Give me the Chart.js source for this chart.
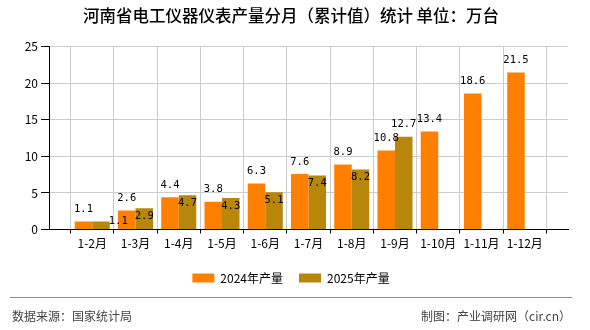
<!DOCTYPE html>
<html>
<head>
<meta charset="utf-8">
<title>河南省电工仪器仪表产量分月（累计值）统计</title>
<script src="https://cdn.jsdelivr.net/npm/chart.js@4.4.1/dist/chart.umd.min.js"></script>
<style>
    html, body { margin: 0; padding: 0; background: #fff; }
    #wrap { width: 590px; height: 330px; position: relative; }
</style>
</head>
<body>
<div id="wrap"><canvas id="myChart" width="590" height="330"></canvas></div>
<script>
// 累计产量（万台）
const months = ['1-2月', '1-3月', '1-4月', '1-5月', '1-6月', '1-7月', '1-8月', '1-9月', '1-10月', '1-11月', '1-12月'];
const output2024 = [1.1, 2.6, 4.4, 3.8, 6.3, 7.6, 8.9, 10.8, 13.4, 18.6, 21.5];
const output2025 = [1.1, 2.9, 4.7, 4.3, 5.1, 7.4, 8.2, 12.7];
const yMin = 0;
const yMax = 25;
const yStep = 5;

const cjkFont = '"Noto Sans CJK SC", "Noto Sans", sans-serif';

// blank slots at both ends so the months sit on the grid lines
const labels = [''].concat(months, ['']);
function padSeries(values) {
    const out = [null].concat(values);
    while (out.length < labels.length) out.push(null);
    return out;
}

// numbers on the bars
const barLabels = {
    id: 'barLabels',
    afterDatasetsDraw(chart) {
        const ctx = chart.ctx;
        const d24 = chart.data.datasets[0].data;
        const d25 = chart.data.datasets[1].data;
        ctx.save();
        ctx.font = '10.5px "DejaVu Sans Mono", monospace';
        ctx.fillStyle = '#000';
        ctx.textBaseline = 'middle';

        chart.getDatasetMeta(0).data.forEach((bar, i) => {
            if (d24[i] == null) return;
            ctx.textAlign = 'center';
            ctx.fillText(d24[i].toFixed(1), bar.x, bar.y - 12);
        });

        chart.getDatasetMeta(1).data.forEach((bar, i) => {
            if (d25[i] == null) return;
            const text = d25[i].toFixed(1);
            if (bar.base - bar.y < 16) {
                ctx.textAlign = 'left';
                ctx.fillText(text, bar.x + bar.width / 2 - 1, bar.y);
            } else if (d24[i] != null && d25[i] - d24[i] > 1) {
                ctx.textAlign = 'center';
                ctx.fillText(text, bar.x, bar.y - 12);
            } else {
                ctx.textAlign = 'center';
                ctx.fillText(text, bar.x, bar.y + 8);
            }
        });
        ctx.restore();
    }
};

// source line under the legend
const footer = {
    id: 'footer',
    afterDraw(chart) {
        const ctx = chart.ctx;
        ctx.save();
        ctx.strokeStyle = '#888';
        ctx.lineWidth = 1;
        ctx.beginPath();
        ctx.moveTo(10, 297.5);
        ctx.lineTo(572, 297.5);
        ctx.stroke();

        ctx.font = '12px ' + cjkFont;
        ctx.fillStyle = '#444';
        ctx.textBaseline = 'middle';
        ctx.textAlign = 'left';
        ctx.fillText('数据来源：国家统计局', 12, 316);
        ctx.textAlign = 'right';
        ctx.fillText('制图：产业调研网（cir.cn）', 571, 316);
        ctx.restore();
    }
};

const ctx = document.getElementById('myChart').getContext('2d');
const myChart = new Chart(ctx, {
    type: 'bar',
    data: {
        labels: labels,
        datasets: [
            {
                label: '2024年产量',
                data: padSeries(output2024),
                backgroundColor: '#FF8000',
                borderWidth: 0,
                inflateAmount: 0,
                categoryPercentage: 0.81,
                barPercentage: 1
            },
            {
                label: '2025年产量',
                data: padSeries(output2025),
                backgroundColor: '#B8860B',
                borderWidth: 0,
                inflateAmount: 0,
                categoryPercentage: 0.81,
                barPercentage: 1
            }
        ]
    },
    options: {
        responsive: false,
        animation: false,
        devicePixelRatio: 1,
        layout: {
            padding: { left: 14, right: 22, top: 0, bottom: 36 }
        },
        scales: {
            x: {
                offset: false,
                grid: { color: '#ccc', tickColor: '#000', tickLength: 4 },
                border: { color: '#000' },
                ticks: {
                    color: '#000',
                    autoSkip: false,
                    maxRotation: 0,
                    padding: 3,
                    font: { size: 12, family: cjkFont }
                },
                afterFit(scale) { scale.height = 26.5; }
            },
            y: {
                min: yMin,
                max: yMax,
                grid: { color: '#ccc', tickColor: '#000', tickLength: 8 },
                border: { color: '#000' },
                ticks: {
                    stepSize: yStep,
                    color: '#000',
                    padding: 3,
                    font: { size: 12, family: cjkFont }
                },
                afterFit(scale) { scale.width = 35; }
            }
        },
        plugins: {
            title: {
                display: true,
                text: '河南省电工仪器仪表产量分月（累计值）统计 单位：万台',
                color: '#000',
                font: { size: 16.5, weight: '500', family: cjkFont },
                padding: { top: 6, bottom: 21 }
            },
            legend: {
                position: 'bottom',
                labels: {
                    boxWidth: 22,
                    boxHeight: 9,
                    padding: 16,
                    color: '#000',
                    font: { size: 12, family: cjkFont }
                }
            },
            tooltip: { enabled: false }
        }
    },
    plugins: [barLabels, footer]
});
</script>
</body>
</html>
